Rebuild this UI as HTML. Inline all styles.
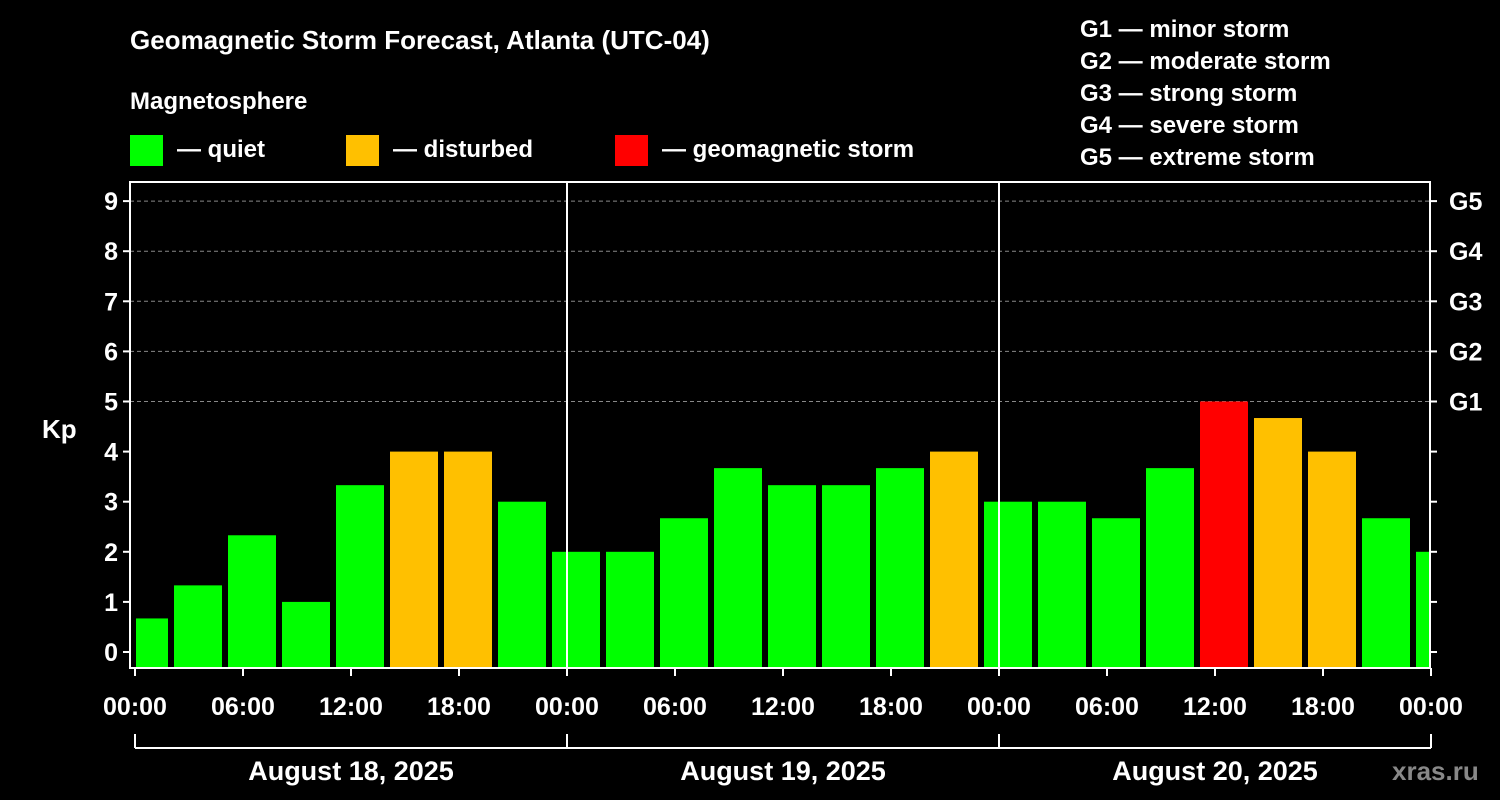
<!DOCTYPE html>
<html><head><meta charset="utf-8">
<style>
html,body{margin:0;padding:0;background:#000;}
svg{display:block;font-family:"Liberation Sans",Arial,sans-serif;font-weight:bold;}
</style></head>
<body>
<svg id="chart" width="1500" height="800" viewBox="0 0 1500 800" xmlns="http://www.w3.org/2000/svg">
<rect width="1500" height="800" fill="#000"/>
<text x="130" y="49" fill="#fff" font-size="26">Geomagnetic Storm Forecast, Atlanta (UTC-04)</text>
<text x="130" y="109" fill="#fff" font-size="24">Magnetosphere</text>
<g><rect x="130" y="135" width="33" height="31" fill="#00ff00"/><text x="177" y="157" fill="#fff" font-size="24">— quiet</text></g>
<g><rect x="346" y="135" width="33" height="31" fill="#ffc000"/><text x="393" y="157" fill="#fff" font-size="24">— disturbed</text></g>
<g><rect x="615" y="135" width="33" height="31" fill="#ff0000"/><text x="662" y="157" fill="#fff" font-size="24">— geomagnetic storm</text></g>
<g fill="#fff" font-size="24">
<text x="1080" y="37">G1 — minor storm</text>
<text x="1080" y="69">G2 — moderate storm</text>
<text x="1080" y="101">G3 — strong storm</text>
<text x="1080" y="133">G4 — severe storm</text>
<text x="1080" y="165">G5 — extreme storm</text>
</g>
<text x="42" y="438" fill="#fff" font-size="26">Kp</text>
<g id="grid"></g>
<g id="bars"></g>
<g id="axes"></g>
<text x="1392" y="780" fill="#888" font-size="26">xras.ru</text>
</svg>
<script>
const kpValues = [0.67,1.33,2.33,1,3.33,4,4,3, 2,2,2.67,3.67,3.33,3.33,3.67,4, 3,3,2.67,3.67,5,4.67,4,2.67,2];
const yTicks = [0,1,2,3,4,5,6,7,8,9];
const gLabels = ["G1","G2","G3","G4","G5"];
const xTickLabels = ["00:00","06:00","12:00","18:00","00:00","06:00","12:00","18:00","00:00","06:00","12:00","18:00","00:00"];
const dayLabels = ["August 18, 2025","August 19, 2025","August 20, 2025"];

const NS="http://www.w3.org/2000/svg";
const L=130,R=1430,T=182,B=668;
const x0=135, pxPerHour=18;
const xs=h=>x0+h*pxPerHour;
const ys=k=>652-k*50.1;
function mk(tag,attrs,parent,text){const e=document.createElementNS(NS,tag);for(const k in attrs)e.setAttribute(k,attrs[k]);if(text!==undefined)e.textContent=text;parent.appendChild(e);return e;}
const grid=document.getElementById('grid'),bars=document.getElementById('bars'),axes=document.getElementById('axes');

// clip
const defs=mk('defs',{},document.getElementById('chart'));
const cp=mk('clipPath',{id:'plotclip'},defs);mk('rect',{x:L+6,y:T,width:R-L-6,height:B-T},cp);
bars.setAttribute('clip-path','url(#plotclip)');

for(let k=5;k<=9;k++){
 const g=mk('line',{x1:L,x2:R,y1:ys(k),y2:ys(k),stroke:'#888','stroke-dasharray':'4,3','stroke-width':1},grid);
 
 
}
kpValues.forEach((v,i)=>{
 const c=xs(0.5+3*i);
 const col=v>=5?'#ff0000':(v>=4?'#ffc000':'#00ff00');
 const r=mk('rect',{x:c-24,y:ys(v),width:48,height:B-ys(v),fill:col},bars);
 
 
});
// frame
const fr=mk('rect',{x:L,y:T,width:R-L,height:B-T,fill:'none',stroke:'#fff','stroke-width':2},axes);


[1,2].forEach(d=>{const l=mk('line',{x1:xs(24*d),x2:xs(24*d),y1:T,y2:B,stroke:'#fff','stroke-width':2},axes);
 
 });
yTicks.forEach(k=>{
 mk('line',{x1:L-7,x2:L,y1:ys(k),y2:ys(k),stroke:'#fff','stroke-width':2},axes);
 mk('line',{x1:R,x2:R+7,y1:ys(k),y2:ys(k),stroke:'#fff','stroke-width':2},axes);
 const t=mk('text',{x:L-12,y:ys(k)+9,fill:'#fff','font-size':25,'text-anchor':'end'},axes,String(k));
 
 
});
gLabels.forEach((g,i)=>{
 const t=mk('text',{x:R+19,y:ys(5+i)+9,fill:'#fff','font-size':25},axes,g);
 
 
});
xTickLabels.forEach((s,i)=>{
 const x=xs(6*i);
 mk('line',{x1:x,x2:x,y1:B,y2:B+8,stroke:'#fff','stroke-width':2},axes);
 const t=mk('text',{x:x,y:715,fill:'#fff','font-size':25,'text-anchor':'middle'},axes,s);
 
 
});
const br=mk('line',{x1:xs(0),x2:xs(72),y1:748,y2:748,stroke:'#fff','stroke-width':2},axes);


for(let d=0;d<=3;d++)mk('line',{x1:xs(24*d),x2:xs(24*d),y1:734,y2:748,stroke:'#fff','stroke-width':2},axes);
dayLabels.forEach((s,i)=>{
 const t=mk('text',{x:xs(24*i+12),y:780,fill:'#fff','font-size':27,'text-anchor':'middle'},axes,s);
 
 
});
</script>
</body></html>
